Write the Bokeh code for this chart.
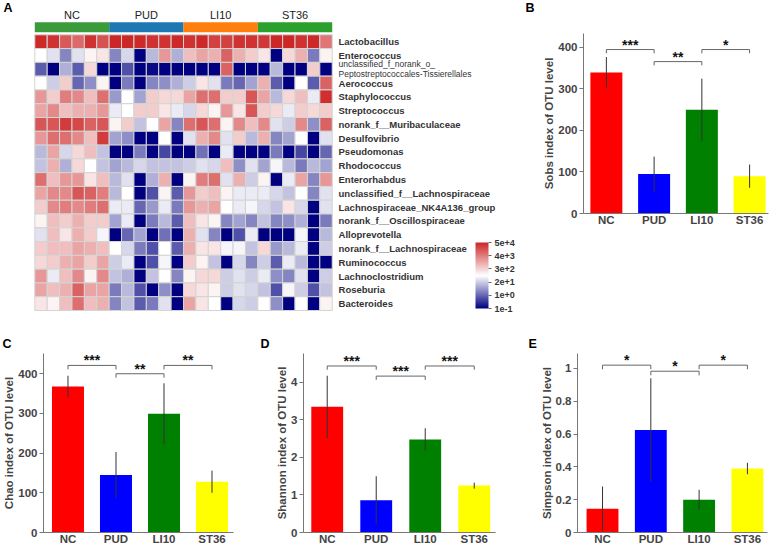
from bokeh.plotting import figure
from bokeh.layouts import column, row
from bokeh.models import Range1d, FixedTicker, ColorBar, LinearColorMapper, Label, ColumnDataSource
from bokeh.core.properties import value
from bokeh.embed import file_html
from bokeh.resources import INLINE

FONT = "Liberation Sans"

# ---------------- data ----------------
groups = ["NC", "PUD", "LI10", "ST36"]
group_colors = ["#3b9b3b", "#1f77b4", "#ff7f0e", "#2ca02c"]
bar_colors = ["#ff0000", "#0000ff", "#008000", "#ffff00"]
samples_per_group = 6
panel_letters = ["A", "B", "C", "D", "E"]

taxa = [
    "Lactobacillus", "Enterococcus",
    "unclassified_f_norank_o_\nPeptostreptococcales-Tissierellales",
    "Aerococcus", "Staphylococcus", "Streptococcus", "norank_f__Muribaculaceae",
    "Desulfovibrio", "Pseudomonas", "Rhodococcus", "Enterorhabdus",
    "unclassified_f__Lachnospiraceae", "Lachnospiraceae_NK4A136_group",
    "norank_f__Oscillospiraceae", "Alloprevotella", "norank_f__Lachnospiraceae",
    "Ruminococcus", "Lachnoclostridium", "Roseburia", "Bacteroides",
]

# abundance on the colour-bar scale (0 = 1e-1 ... 5 = 5e+4), rows = taxa, cols = 24 samples
abund = [
    [4.95, 4.85, 4.4, 4.2, 4.85, 4.5, 5.0, 5.0, 4.95, 4.85, 4.85, 4.95, 4.85, 4.95, 4.7, 4.7, 4.85, 4.85, 4.8, 5.0, 5.0, 4.85, 4.95, 4.1],
    [2.5, 2.2, 1.3, 2.2, 2.65, 2.8, 1.3, 2.1, 0, 1.8, 3.7, 1.7, 3.25, 3.55, 3.4, 4.3, 3.4, 3.1, 2.8, 0, 2.95, 3.4, 1.2, 2.65],
    [0.9, 0, 1.7, 0.9, 2.95, 0, 0, 0.8, 0, 0.1, 0, 0, 0, 0, 0, 4.3, 0, 0, 0, 1.8, 0, 0, 3.1, 0],
    [2.5, 2.0, 3.1, 1.0, 1.4, 2.65, 0, 1.2, 0, 1.3, 1.4, 1.7, 2.0, 2.8, 2.2, 1.2, 1.0, 1.6, 3.4, 0.9, 0, 2.5, 0.9, 4.3],
    [3.7, 3.1, 4.0, 3.85, 3.25, 4.15, 1.5, 2.5, 1.6, 3.1, 2.95, 2.95, 3.55, 4.15, 4.15, 3.1, 3.1, 4.45, 3.55, 1.8, 2.95, 3.25, 2.3, 4.9],
    [3.55, 3.85, 3.25, 3.4, 3.4, 3.7, 2.3, 2.5, 3.1, 3.1, 2.8, 2.3, 2.1, 2.95, 2.65, 3.7, 2.8, 4.45, 3.1, 2.95, 2.3, 3.1, 2.95, 3.1],
    [4.45, 4.45, 4.75, 4.6, 4.3, 4.45, 2.65, 3.1, 1.9, 2.5, 3.55, 1.3, 4.15, 4.45, 4.15, 2.65, 3.85, 3.25, 3.85, 2.2, 2.0, 3.85, 1.4, 4.3],
    [3.7, 4.15, 4.15, 3.85, 3.25, 4.75, 1.6, 1.4, 0, 0, 2.5, 0, 2.2, 3.4, 3.85, 2.2, 3.1, 1.8, 3.4, 1.3, 1.6, 2.5, 0, 2.2],
    [1.8, 3.55, 2.1, 2.95, 3.25, 1.9, 0, 0, 1.2, 0, 0.7, 0, 0, 1.1, 0, 2.3, 0, 0, 0, 1.2, 0, 0.7, 0, 1.0],
    [1.9, 3.4, 1.7, 2.95, 2.5, 1.9, 1.6, 1.8, 2.1, 1.9, 1.9, 1.9, 2.0, 2.2, 2.1, 3.25, 1.4, 2.2, 1.6, 2.4, 1.8, 1.2, 1.8, 1.6],
    [4.15, 3.25, 3.7, 3.7, 2.8, 3.25, 1.8, 2.2, 0, 1.7, 3.4, 0, 2.65, 4.0, 4.15, 2.2, 3.4, 2.0, 2.65, 0, 2.3, 3.55, 1.3, 3.7],
    [3.55, 3.85, 3.85, 4.45, 4.3, 4.0, 1.8, 2.5, 0, 0.8, 2.65, 0.9, 3.7, 3.1, 3.25, 2.65, 2.3, 2.3, 2.3, 2.1, 1.9, 2.5, 1.3, 2.2],
    [3.1, 3.85, 4.0, 3.85, 4.0, 4.15, 2.3, 2.3, 1.0, 1.5, 2.3, 1.2, 3.7, 3.4, 3.55, 2.5, 2.3, 2.4, 2.1, 1.9, 2.8, 2.1, 0, 2.2],
    [2.65, 3.25, 3.1, 3.4, 3.1, 3.1, 1.6, 2.3, 0, 1.2, 1.8, 0.9, 3.25, 2.8, 2.65, 1.3, 1.6, 1.3, 1.9, 1.3, 1.4, 1.7, 0, 1.2],
    [2.2, 3.25, 2.8, 3.4, 3.1, 2.4, 0, 1.0, 1.6, 0, 1.1, 0, 3.4, 2.2, 1.3, 0, 0.8, 2.3, 0, 0, 0, 2.4, 0, 1.8],
    [3.1, 3.25, 3.25, 3.55, 3.4, 3.25, 2.5, 2.1, 1.2, 0.8, 2.5, 0.9, 3.4, 2.8, 2.8, 2.4, 2.4, 1.9, 2.95, 1.5, 1.8, 2.3, 0, 2.0],
    [2.95, 3.1, 3.4, 3.55, 3.1, 3.55, 2.0, 2.3, 0, 0.8, 2.4, 0, 3.1, 2.65, 1.9, 0, 2.1, 1.3, 2.0, 0.9, 2.3, 1.8, 0, 0],
    [3.7, 2.3, 3.25, 3.85, 2.65, 3.85, 1.9, 1.7, 0, 1.9, 2.5, 1.3, 2.65, 2.95, 2.95, 2.0, 2.2, 2.0, 2.3, 1.4, 1.3, 2.2, 0, 2.0],
    [3.55, 3.25, 3.4, 4.3, 3.55, 3.55, 1.2, 1.8, 0.8, 0, 1.4, 0, 2.95, 2.8, 2.65, 2.0, 2.2, 2.1, 1.9, 0.8, 2.4, 2.0, 0.8, 1.9],
    [2.8, 2.65, 3.25, 4.15, 3.25, 3.4, 1.3, 1.9, 0.9, 1.2, 2.2, 0, 3.55, 2.8, 2.5, 0, 2.1, 2.0, 2.5, 1.4, 0, 2.5, 0, 2.65],
]
cbar_ticks = [0, 1, 2, 3, 4, 5]
cbar_labels = ["1e-1", "1e+0", "2e+1", "3e+2", "4e+3", "5e+4"]

sobs_mean = [340, 95, 250, 90]
sobs_err = [37, 42, 75, 28]
sobs_brackets = [(0, 1, 395, "***"), (1, 2, 366, "**"), (2, 3, 395, "*")]

chao_mean = [368, 145, 299, 128]
chao_err = [27, 58, 77, 28]
chao_brackets = [(0, 1, 421, "***"), (1, 2, 400, "**"), (2, 3, 421, "**")]

shannon_mean = [3.35, 0.86, 2.48, 1.25]
shannon_err = [0.83, 0.64, 0.30, 0.08]
shannon_brackets = [(0, 1, 4.44, "***"), (1, 2, 4.17, "***"), (2, 3, 4.44, "***")]

simpson_mean = [0.145, 0.625, 0.20, 0.39]
simpson_err = [0.135, 0.315, 0.06, 0.035]
simpson_brackets = [(0, 1, 1.02, "*"), (1, 2, 0.983, "*"), (2, 3, 1.02, "*")]

# ---------------- styling helpers ----------------
def mix(c1, c2, t):
    return "#%02x%02x%02x" % tuple(int(round(a + (b - a) * t)) for a, b in zip(c1, c2))

navy, white, red = (0, 0, 128), (255, 255, 255), (205, 38, 38)
palette = [mix(navy, white, i / 127) for i in range(128)] + [mix(white, red, i / 127) for i in range(128)]
mapper = LinearColorMapper(palette=palette, low=cbar_ticks[0], high=cbar_ticks[-1])


def unalign(p):
    if "frame_align" in p.properties():
        p.frame_align = False


# ---------------- panel A : heatmap (its canvas also hosts the panel letters) ----------------
n_rows = len(taxa)
n_cols = len(groups) * samples_per_group
WA, HA = 540, 352
col_px, row_px = 12.392, 13.785
hx0, hy0, hy1 = 34.3, 34.3, 310.0


def dx(px):
    return (px - hx0) / col_px


def dy(py):
    return n_rows - (py - hy0) / row_px


pa = figure(width=WA, height=HA, output_backend="svg", toolbar_location=None,
            x_range=Range1d(dx(0), dx(WA)), y_range=Range1d(dy(HA), dy(0)),
            x_axis_location=None, y_axis_location=None,
            min_border=0, min_border_left=0, min_border_right=0, min_border_top=0, min_border_bottom=0)
unalign(pa)
pa.grid.visible = False
pa.outline_line_color = None

xs, ys, vs = [], [], []
for r, rv in enumerate(abund):
    for c, v in enumerate(rv):
        xs.append(c + 0.5)
        ys.append(n_rows - r - 0.5)
        vs.append(v)
src = ColumnDataSource(dict(x=xs, y=ys, v=vs))
pa.rect("x", "y", 1, 1, source=src, fill_color={"field": "v", "transform": mapper},
        line_color="#d4d4d4", line_width=1)

gx = [samples_per_group * (i + 0.5) for i in range(len(groups))]
pa.rect(x=gx, y=n_rows + 0.55, width=samples_per_group, height=0.72,
        fill_color=group_colors, line_color=None)
pa.text(x=gx, y=n_rows + 1.47, text=groups, text_align="center", text_baseline="middle",
        text_font=value(FONT), text_font_size="11px", text_color="#222222")

lab_x = n_cols + 0.51
single_y = [n_rows - i - 0.5 for i, t in enumerate(taxa) if "\n" not in t]
single_t = [t for t in taxa if "\n" not in t]
pa.text(x=lab_x, y=single_y, text=single_t, text_align="left", text_baseline="middle",
        text_font=value(FONT), text_font_size="9.5px", text_font_style="bold", text_color="#333333")
multi_y, multi_t = [], []
for i, t in enumerate(taxa):
    if "\n" in t:
        a, b = t.split("\n")
        multi_y += [n_rows - i - 0.5 + 0.36, n_rows - i - 0.5 - 0.36]
        multi_t += [a, b]
pa.text(x=lab_x, y=multi_y, text=multi_t, text_align="left", text_baseline="middle",
        text_font=value(FONT), text_font_size="8.5px", text_color="#333333")

cb = ColorBar(color_mapper=mapper, ticker=FixedTicker(ticks=cbar_ticks),
              major_label_overrides={t: l for t, l in zip(cbar_ticks, cbar_labels)},
              width=13, height=66, padding=0, margin=0, location=(475, HA - 308),
              bar_line_color=None, border_line_color=None, background_fill_alpha=0,
              major_tick_line_color="#666666", major_tick_in=0, major_tick_out=3,
              minor_tick_line_color=None, label_standoff=3,
              major_label_text_font=FONT, major_label_text_font_size="9px",
              major_label_text_font_style="bold", major_label_text_color="#333333")
pa.add_layout(cb)

# panel letters (page pixel positions of their left / top)
letter_px = [(3, 0), (525, 0), (2, 336), (260, 336), (528, 336)]
for t, (lx, ly) in zip(panel_letters, letter_px):
    pa.add_layout(Label(x=dx(lx), y=dy(ly), text=t, text_font=FONT, text_font_size="12.5px",
                        text_font_style="bold", text_baseline="top", text_align="left",
                        text_color="#000000"))


# ---------------- bar panels ----------------
def bar_panel(means, errs, brackets, ylabel, yticks, over, w, h, bl, br, bt, bb,
              xr, yr, bw, drop):
    p = figure(width=w, height=h, output_backend="svg", toolbar_location=None,
               x_range=Range1d(*xr), y_range=Range1d(*yr),
               min_border_left=bl, min_border_right=br, min_border_top=bt, min_border_bottom=bb)
    unalign(p)
    p.grid.visible = False
    p.outline_line_color = None
    pos = list(range(1, len(groups) + 1))
    p.vbar(x=pos, top=means, width=bw, fill_color=bar_colors, line_color=None)
    p.segment(x0=pos, y0=[m - e for m, e in zip(means, errs)], x1=pos,
              y1=[m + e for m, e in zip(means, errs)], line_color="#333333", line_width=1)
    bxs, bys, tx, ty, tt = [], [], [], [], []
    for i, j, yb, s in brackets:
        bxs.append([pos[i], pos[i], pos[j], pos[j]])
        bys.append([yb - drop, yb, yb, yb - drop])
        tx.append((pos[i] + pos[j]) / 2)
        ty.append(yb)
        tt.append(s)
    p.multi_line(bxs, bys, line_color="#666666", line_width=1)
    p.text(x=tx, y=ty, text=tt, text_align="center", text_baseline="alphabetic", y_offset=-5,
           text_font=value(FONT), text_font_size="14px", text_font_style="bold", text_color="#111111")

    p.xaxis.ticker = FixedTicker(ticks=pos)
    p.xaxis.major_label_overrides = {k: g for k, g in zip(pos, groups)}
    p.yaxis.ticker = FixedTicker(ticks=yticks)
    if over:
        p.yaxis.major_label_overrides = over
    for ax in (p.xaxis[0], p.yaxis[0]):
        ax.axis_line_color = "#777777"
        ax.major_tick_line_color = "#777777"
        ax.minor_tick_line_color = None
        ax.major_label_text_font = FONT
        ax.major_label_text_font_style = "bold"
        ax.major_label_text_font_size = "11.5px"
        ax.major_label_text_color = "#444444"
    p.xaxis.major_tick_line_color = None
    p.xaxis.major_tick_out = 0
    p.xaxis.major_tick_in = 0
    p.xaxis.major_label_standoff = 0
    p.yaxis.major_tick_in = 0
    p.yaxis.major_tick_out = 4
    p.yaxis.major_label_standoff = 2
    p.yaxis.axis_label = ylabel
    p.yaxis.axis_label_text_font = FONT
    p.yaxis.axis_label_text_font_style = "bold"
    p.yaxis.axis_label_text_font_size = "11.5px"
    p.yaxis.axis_label_text_color = "#444444"
    p.yaxis.axis_label_standoff = 0
    return p


pb = bar_panel(sobs_mean, sobs_err, sobs_brackets, "Sobs index of OTU level",
               [0, 100, 200, 300, 400], None, 234, 352, 42, 6, 33, 139,
               (0.521, 4.396), (0, 433.7), 0.67, 9)
pc = bar_panel(chao_mean, chao_err, chao_brackets, "Chao index of OTU level",
               [0, 100, 200, 300, 400], None, 256, 196, 43, 23, 1, 16,
               (0.49, 4.448), (0, 451), 0.667, 10)
pd_ = bar_panel(shannon_mean, shannon_err, shannon_brackets, "Shannon index of OTU level",
                [0, 1, 2, 3, 4], None, 256, 196, 47, 17, 1, 16,
                (0.516, 4.434), (0, 4.773), 0.65, 0.1)
pe = bar_panel(simpson_mean, simpson_err, simpson_brackets, "Simpson index of OTU level",
               [0, 0.2, 0.4, 0.6, 0.8, 1], {0: "0", 1: "1"}, 262, 196, 65, 7, 1, 16,
               (0.482, 4.416), (0, 1.091), 0.66, 0.025)

layout = column(row(pa, pb), row(pc, pd_, pe))
open("out.html", "w").write(file_html(layout, INLINE))
